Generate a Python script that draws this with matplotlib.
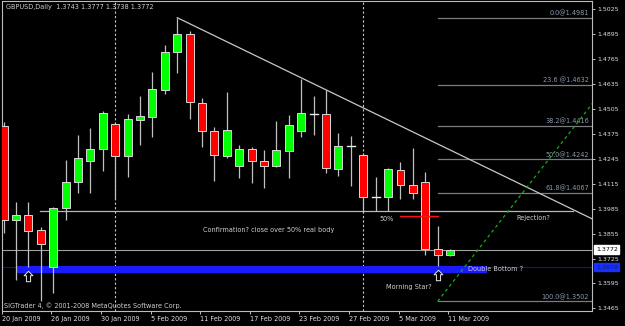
import matplotlib
matplotlib.use('Agg')
import matplotlib.pyplot as plt
import matplotlib.transforms as mtransforms
from matplotlib.path import Path

plt.rcParams['font.family'] = ['DejaVu Sans']

# ---------------- data (GBPUSD daily, 20 Jan 2009 .. 11 Mar 2009) ----------------
opens = [1.4416, 1.3926, 1.3950, 1.3874, 1.3682, 1.3987, 1.4122, 1.4234, 1.4295, 1.4428,
         1.4258, 1.4449, 1.4465, 1.4606, 1.4804, 1.4895, 1.4538, 1.4389, 1.4261, 1.4206,
         1.4296, 1.4235, 1.4206, 1.4286, 1.4392, 1.4479, 1.4479, 1.4193, 1.4310, 1.4266,
         1.4046, 1.4047, 1.4187, 1.4108, 1.4122, 1.3773, 1.3743]
highs = [1.4439, 1.4021, 1.4021, 1.3891, 1.3992, 1.4239, 1.4369, 1.4407, 1.4496, 1.4439,
         1.4477, 1.4573, 1.4699, 1.4839, 1.4981, 1.4912, 1.4561, 1.4409, 1.4595, 1.4317,
         1.4307, 1.4291, 1.4442, 1.4474, 1.4660, 1.4574, 1.4604, 1.4381, 1.4362, 1.4275,
         1.4152, 1.4197, 1.4227, 1.4300, 1.4178, 1.3896, 1.3777]
lows = [1.3860, 1.3613, 1.3682, 1.3502, 1.3543, 1.3926, 1.4068, 1.4068, 1.4184, 1.4034,
        1.4148, 1.4317, 1.4360, 1.4583, 1.4694, 1.4451, 1.4308, 1.4131, 1.4251, 1.4143,
        1.4119, 1.4091, 1.4201, 1.4143, 1.4357, 1.4369, 1.4169, 1.4157, 1.4103, 1.3968,
        1.3973, 1.3973, 1.4034, 1.4034, 1.3743, 1.3686, 1.3738]
closes = [1.3926, 1.3952, 1.3868, 1.3799, 1.3987, 1.4126, 1.4248, 1.4295, 1.4486, 1.4258,
          1.4453, 1.4467, 1.4608, 1.4801, 1.4895, 1.4540, 1.4389, 1.4263, 1.4397, 1.4296,
          1.4234, 1.4206, 1.4291, 1.4420, 1.4482, 1.4480, 1.4197, 1.4310, 1.4310, 1.4048,
          1.4046, 1.4192, 1.4111, 1.4068, 1.3773, 1.3743, 1.3772]

date_tick_bars = [0, 4, 8, 12, 16, 20, 24, 28, 32, 36]
date_tick_labels = ['20 Jan 2009', '26 Jan 2009', '30 Jan 2009', '5 Feb 2009', '11 Feb 2009',
                    '17 Feb 2009', '23 Feb 2009', '27 Feb 2009', '5 Mar 2009', '11 Mar 2009']
price_ticks = [1.5025, 1.4895, 1.4765, 1.4635, 1.4505, 1.4375, 1.4245, 1.4115,
               1.3985, 1.3855, 1.3725, 1.3595, 1.3465]
separator_bars = [9, 29]

fib_names = ['0.0', '23.6 ', '38.2', '50.0', '61.8', '100.0']
fib_prices = [1.4981, 1.4632, 1.4416, 1.4242, 1.4067, 1.3502]
fib_start_bar = 35

trend_pts_x = [14, 47.48]
trend_pts_y = [1.4981, 1.3931]
green_pts_x = [35, 47.48]
green_pts_y = [1.3502, 1.4534]
hline_x = [2.94, 45.9]
hline_price = 1.3974
bid_price = 1.3772
support_price = 1.3679
band_x = [1, 39]
band_prices = [1.3651, 1.3686]
half_body_x = [32, 35]
half_body_price = 1.39475
arrow_bars = [2, 35]
arrow_prices = [1.3636, 1.3640]

# ---------------- figure ----------------
W, H = 625, 326
fig = plt.figure(figsize=(W / 100, H / 100), dpi=100, facecolor='black')
ax = fig.add_axes([1.7 / W, (H - 310.5) / H, (592.5 - 1.7) / W, (310.5 - 1) / H])
ax.set_facecolor('black')
ax.set_xlim(-0.09, 47.48)
ax.set_ylim(1.3454, 1.5068)

trans = mtransforms.blended_transform_factory(ax.transAxes, ax.transData)
txtc = '#d0d0d0'
fs = 4.7

# separators
for b in separator_bars:
    ax.axvline(b, color='#c8c8c8', lw=0.8, ls=(0, (2, 2)), zorder=1)

# fib lines
for name, p in zip(fib_names, fib_prices):
    ax.plot([fib_start_bar, 47.48], [p, p], color='#7c7c7c', lw=0.9, zorder=1)
    ax.text(0.994, p + 0.0007, f'{name}@{p:.4f}', transform=trans, ha='right', va='bottom',
            fontsize=fs, color='#8a9bb0', zorder=2)

# horizontal lines
ax.plot(hline_x, [hline_price] * 2, color='#b8b8b8', lw=0.9, zorder=1)
ax.axhline(bid_price, color='#a0a0a0', lw=0.8, zorder=1)
ax.axhline(support_price, color='#1010b0', lw=0.8, zorder=1)
ax.fill_between(band_x, band_prices[0], band_prices[1], color='#1a1aff', lw=0, zorder=2)

# trend lines
ax.plot(trend_pts_x, trend_pts_y, color='#c8c8c8', lw=0.9, zorder=3)
ax.plot(green_pts_x, green_pts_y, color='#14b014', lw=0.9, ls=(0, (2.5, 2.5)), zorder=3)

# candles
bw = 0.64
for i, (o, h, l, c) in enumerate(zip(opens, highs, lows, closes)):
    ax.vlines(i, l, h, color='#c0c0c0', lw=0.9, zorder=4)
    if abs(c - o) < 0.0003:
        ax.plot([i - bw / 2, i + bw / 2], [o, o], color='#e8e8e8', lw=1.0, zorder=5)
    else:
        col = '#00ff00' if c > o else '#ff0000'
        ax.bar(i, abs(c - o), bottom=min(o, c), width=bw, color=col,
               edgecolor='#d8d8d8', linewidth=0.7, zorder=5)

# 50% of body line
ax.plot(half_body_x, [half_body_price] * 2, color='#ff1010', lw=1.0, zorder=6)

# outlined up arrows
arrow_path = Path([(0, 1), (0.85, 0.15), (0.4, 0.15), (0.4, -1), (-0.4, -1),
                   (-0.4, 0.15), (-0.85, 0.15), (0, 1)],
                  [Path.MOVETO] + [Path.LINETO] * 6 + [Path.CLOSEPOLY])
ax.plot(arrow_bars, arrow_prices, ls='none', marker=arrow_path, markersize=7.5,
        markerfacecolor='black', markeredgecolor='#e8e8e8', markeredgewidth=0.7, zorder=7)

# annotations
ax.text(30.29, 1.3931, '50%', fontsize=fs, color=txtc, va='center', ha='left', zorder=7)
ax.text(41.38, 1.3936, 'Rejection?', fontsize=fs, color=txtc, va='center', ha='left', zorder=7)
ax.text(37.46, 1.3672, 'Double Bottom ?', fontsize=fs, color=txtc, va='center', ha='left', zorder=7)
ax.text(30.85, 1.3578, 'Morning Star?', fontsize=fs, color=txtc, va='center', ha='left', zorder=7)
ax.text(16.09, 1.3875, 'Confirmation? close over 50% real body', fontsize=fs, color=txtc,
        va='center', ha='left', zorder=7)

ax.text(0.0073, 0.9797, 'GBPUSD,Daily  1.3743 1.3777 1.3738 1.3772', transform=ax.transAxes,
        fontsize=fs, color=txtc, ha='left', va='center')
ax.text(0.0039, 0.0145, 'SIGTrader 4, \u00a9 2001-2008 MetaQuotes Software Corp.',
        transform=ax.transAxes, fontsize=fs, color=txtc, ha='left', va='center')

# axes styling
for s in ax.spines.values():
    s.set_color('#bcbcbc')
    s.set_linewidth(0.8)
ax.yaxis.tick_right()
ax.set_yticks(price_ticks)
ax.set_yticklabels([f'{p:.4f}' for p in price_ticks])
ax.tick_params(axis='y', direction='out', length=2, width=0.7, colors='#c0c0c0',
               labelcolor='#e0e0e0', labelsize=4.5, pad=1.5)
ax.set_xticks([b - 0.15 for b in date_tick_bars])
ax.set_xticklabels(date_tick_labels, ha='left')
ax.tick_params(axis='x', direction='out', length=2.5, width=0.7, colors='#c0c0c0',
               labelcolor='#e0e0e0', labelsize=fs, pad=1.2)

ax.text(1.006, bid_price, f'{bid_price:.4f}', transform=trans, ha='left', va='center',
        fontsize=4.5, color='black', zorder=8, clip_on=False,
        bbox=dict(boxstyle='square,pad=0.25', fc='white', ec='white'))
ax.text(1.006, support_price, f'{support_price:.4f}', transform=trans, ha='left', va='center',
        fontsize=4.5, color='#1a1a70', zorder=8, clip_on=False,
        bbox=dict(boxstyle='square,pad=0.25', fc='#1530ff', ec='#1530ff'))

fig.savefig('out.png', dpi=100, facecolor='black')
